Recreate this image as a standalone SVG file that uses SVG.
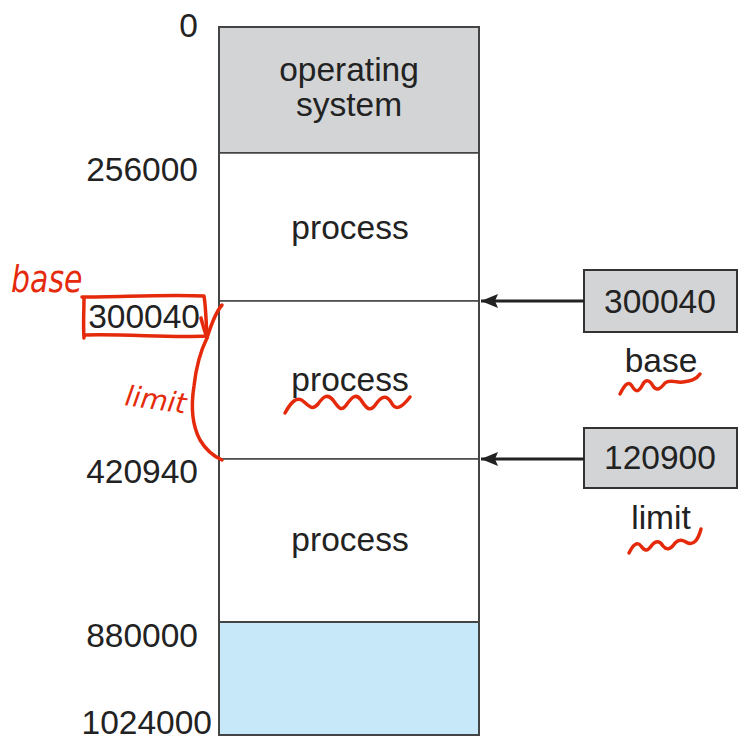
<svg xmlns="http://www.w3.org/2000/svg" width="749" height="747" viewBox="0 0 749 747">
<defs>
<style>
.t{font-family:"Liberation Sans",Arial,sans-serif;font-size:33.5px;fill:#222}
.c{text-anchor:middle}
.blk{fill:#fff;stroke:#444;stroke-width:1.5}
.box{fill:#d3d4d6;stroke:#333;stroke-width:2}
.conn{stroke:#222;stroke-width:3;fill:none}
.red{fill:none;stroke:#e52a0c;stroke-width:3.5;stroke-linecap:round;stroke-linejoin:round}
.hw{font-family:"DejaVu Sans",sans-serif;font-style:italic;fill:#e52a0c}
</style>
<marker id="ah" markerWidth="18" markerHeight="14" refX="17" refY="7" orient="auto" markerUnits="userSpaceOnUse">
<path d="M0,0 L17,7 L0,14 L3,7 Z" fill="#222"/>
</marker>
</defs>
<rect width="749" height="747" fill="#fff"/>

<g id="os">
<rect x="219" y="27" width="260" height="126" fill="#d3d4d6" stroke="#444" stroke-width="2"/>
<text class="t c" x="349" y="81">operating</text>
<text class="t c" x="349" y="116">system</text>
</g>
<g id="process1">
<rect class="blk" x="219" y="153" width="260" height="148"/>
<text class="t c" x="350" y="239">process</text>
</g>
<g id="process2">
<rect class="blk" x="219" y="301" width="260" height="158"/>
<text class="t c" x="350" y="391">process</text>
</g>
<g id="process3">
<rect class="blk" x="219" y="459" width="260" height="163"/>
<text class="t c" x="350" y="551">process</text>
</g>
<g id="free">
<rect x="219" y="622" width="260" height="113" fill="#c6e8f8" stroke="#444" stroke-width="2"/>
</g>
<rect x="219" y="27" width="260" height="708" fill="none" stroke="#444" stroke-width="2"/>

<g id="addresses">
<text class="t" x="198" y="37" text-anchor="end">0</text>
<text class="t" x="198" y="181" text-anchor="end">256000</text>
<text class="t" x="200" y="328" text-anchor="end">300040</text>
<text class="t" x="198" y="483" text-anchor="end">420940</text>
<text class="t" x="198" y="647" text-anchor="end">880000</text>
<text class="t" x="212" y="734" text-anchor="end">1024000</text>
</g>

<g id="base-register">
<rect class="box" x="584" y="270" width="153" height="62"/>
<text class="t c" x="660" y="313">300040</text>
<text class="t c" x="661" y="372">base</text>
</g>
<g id="limit-register">
<rect class="box" x="584" y="428" width="153" height="60"/>
<text class="t c" x="660" y="469">120900</text>
<text class="t c" x="661" y="529">limit</text>
</g>

<g id="connectors">
<line class="conn" x1="584" y1="301" x2="481" y2="301" marker-end="url(#ah)"/>
<line class="conn" x1="584" y1="459" x2="481" y2="459" marker-end="url(#ah)"/>
</g>

<g id="annotations">
<text class="hw" x="11" y="292" font-size="30" transform="translate(0,292) scale(1,1.25) translate(0,-292)">base</text>
<text class="hw" x="124" y="405" font-size="28" transform="rotate(8 124 405)">limit</text>
<path class="red" d="M84,298 C84,310 83,325 84,338 M82,297 C120,297 170,294 204,296 C206,308 206,322 207,336 C170,338 130,334 86,335"/>
<path class="red" d="M201,318 C203,326 205,332 207,338 C211,325 215,313 222,305"/>
<path class="red" d="M207,338 C200,352 196,368 194,386 C191,405 192,425 200,440 C206,450 213,456 222,460"/>
<path class="red" d="M285,413 C291,402 297,396 303,401 C309,406 312,411 318,404 C323,397 327,393 333,400 C338,407 341,413 347,404 C352,397 356,393 361,400 C366,408 370,413 376,404 C381,397 386,394 391,402 C395,410 400,410 410,397"/>
<path class="red" d="M620,394 C624,386 628,380 632,386 C636,393 639,392 643,384 C646,379 650,380 653,386 C657,392 661,388 665,383 C670,379 676,383 683,382 C690,381 696,380 700,374"/>
<path class="red" d="M629,553 C633,545 637,541 641,546 C645,552 648,551 652,545 C656,540 660,541 663,546 C667,551 671,549 675,543 C680,538 684,541 688,543 C694,545 698,540 701,529"/>
</g>
</svg>
